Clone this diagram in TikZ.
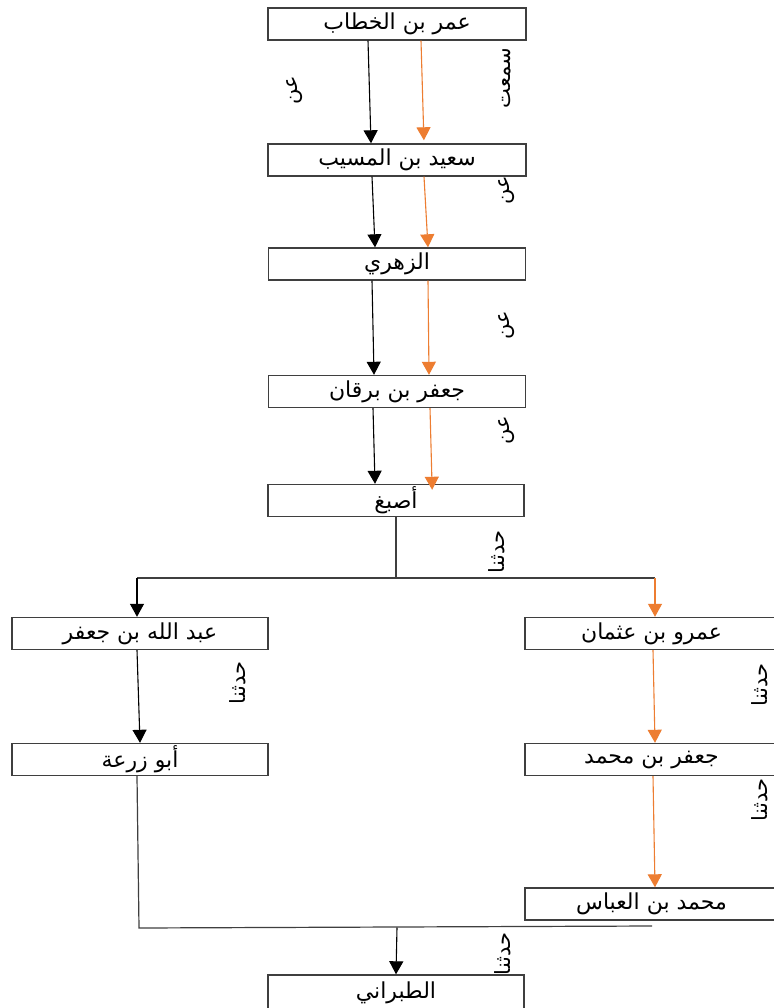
\documentclass[tikz,border=0pt]{standalone}
\usepackage{fontspec}
\newfontfamily\arabicfont[Script=Arabic]{DejaVu Sans}
\TeXXeTstate=1
\usetikzlibrary{arrows.meta,calc}
\definecolor{orng}{HTML}{ED7D31}
\definecolor{boxgray}{HTML}{3F3F3F}
\newcommand{\ar}[1]{\arabicfont\beginR #1\endR}
\newcommand{\arb}[1]{\raisebox{-2pt}{\arabicfont\beginR #1\endR}}
\begin{document}
\begin{tikzpicture}[x=1pt,y=-1pt,
  box/.style={draw=boxgray, line width=1.4pt, minimum height=32pt, inner sep=0pt,
    font=\arabicfont\fontsize{22}{24}\selectfont},
  lbl/.style={rotate=90, inner sep=0pt, font=\arabicfont\fontsize{21}{24}\selectfont},
  arr/.style={-{Triangle[length=13pt,width=14pt]}, line width=1.1pt},
  oarr/.style={arr, draw=orng, -{Triangle[length=13pt,width=14pt,fill=orng]}, color=orng},
  ln/.style={line width=1.2pt, draw=boxgray}]
\useasboundingbox (0,0) rectangle (773,1008);
\fill[white] (0,0) rectangle (773,1008);
% boxes
\node[box, minimum width=258pt] (A) at (397,24) {\arb{عمر بن الخطاب}};
\node[box, minimum width=258pt] (B) at (397,160) {\arb{سعيد بن المسيب}};
\node[box, minimum width=257pt] (C) at (397,264) {\arb{الزهري}};
\node[box, minimum width=257pt] (D) at (397,391.5) {\arb{جعفر بن برقان}};
\node[box, minimum width=256pt] (E) at (396,500.5) {\arb{أصبغ}};
\node[box, minimum width=256pt] (F) at (140,633.5) {\arb{عبد الله بن جعفر}};
\node[box, minimum width=253pt] (G) at (651.5,633.5) {\arb{عمرو بن عثمان}};
\node[box, minimum width=256pt] (H) at (140,759.5) {\arb{أبو زرعة}};
\node[box, minimum width=253pt] (I) at (651.5,759.5) {\arb{جعفر بن محمد}};
\node[box, minimum width=253pt] (J) at (651.5,904) {\arb{محمد بن العباس}};
\node[box, minimum width=256pt, minimum height=36pt] (K) at (396,993) {\arb{الطبراني}};
% top chain
\draw[arr] ([xshift=-29pt]A.south) -- ([xshift=-26pt]B.north);
\draw[oarr, shorten >=3pt] ([xshift=24pt]A.south) -- ([xshift=27pt]B.north);
\draw[arr] ([xshift=-25pt]B.south) -- ([xshift=-22pt]C.north);
\draw[oarr] ([xshift=27pt]B.south) -- ([xshift=31pt]C.north);
\draw[arr] ([xshift=-25pt]C.south) -- ([xshift=-23pt]D.north);
\draw[oarr] ([xshift=31pt]C.south) -- ([xshift=32pt]D.north);
\draw[arr] ([xshift=-24pt]D.south) -- ([xshift=-21pt]E.north);
\draw[oarr, shorten >=-6pt] ([xshift=33pt]D.south) -- ([xshift=36pt]E.north);
% split
\coordinate (j1) at (396,578);
\coordinate (jL) at (137,578);
\coordinate (jR) at (655,578);
\draw[ln] (E.south) -- (j1);
\draw[ln] (jL) -- (jR);
\draw[arr] (jL) -- ([xshift=-3pt]F.north);
\draw[oarr] (jR) -- ([xshift=3.5pt]G.north);
% branches
\draw[arr] ([xshift=-3pt]F.south) -- (H.north);
\draw[oarr] ([xshift=1.5pt]G.south) -- ([xshift=3.5pt]I.north);
\draw[oarr] ([xshift=1.5pt]I.south) -- ([xshift=3.5pt]J.north);
% join
\coordinate (bL) at (139,928);
\coordinate (bR) at (652,926);
\coordinate (bM) at (397,927.5);
\draw[ln] ([xshift=-3pt]H.south) -- (bL) -- (bR);
\draw[arr] (bM) -- (K.north);
% labels
\node[lbl] (l1) at (295,90) {\ar{عن}};
\node[lbl] (l2) at (507,78) {\ar{سمعت}};
\node[lbl] (l3) at (507,190) {\ar{عن}};
\node[lbl] (l4) at (507,325) {\ar{عن}};
\node[lbl] (l5) at (507,430) {\ar{عن}};
\node[lbl] (l6) at (497,552) {\ar{حدثنا}};
\node[lbl] (l7) at (238,683) {\ar{حدثنا}};
\node[lbl] (l8) at (760,685) {\ar{حدثنا}};
\node[lbl] (l9) at (760,800) {\ar{حدثنا}};
\node[lbl] (l10) at (503,954) {\ar{حدثنا}};
\end{tikzpicture}
\end{document}
